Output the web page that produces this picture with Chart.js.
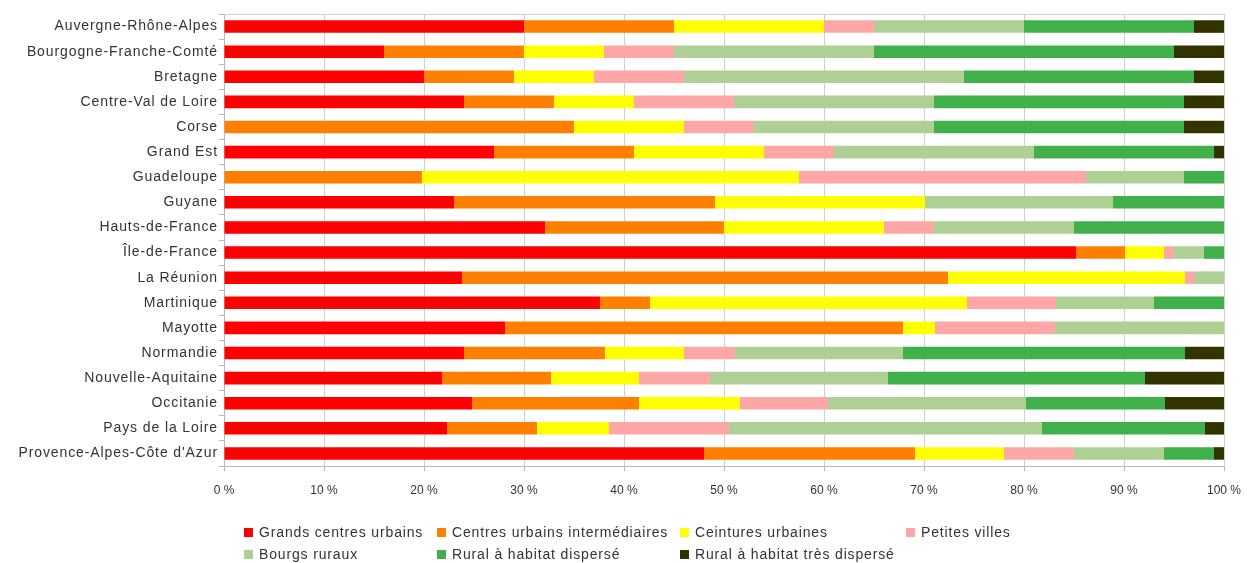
<!DOCTYPE html>
<html lang="fr">
<head>
<meta charset="utf-8">
<title>Répartition de la population par type de commune</title>
<script src="https://cdn.jsdelivr.net/npm/chart.js@4/dist/chart.umd.min.js"></script>
<style>
    html, body { margin: 0; padding: 0; background: #fff; }
    #wrap { position: relative; width: 1247px; height: 563px; }
    #legend {
        position: absolute; left: 244px; top: 523px;
        display: grid; grid-template-columns: 193px 243px 226px auto;
        row-gap: 4px;
        font-family: "Liberation Sans", Arial, sans-serif; font-size: 14px;
        letter-spacing: 0.85px; color: #333;
    }
    .item { display: flex; align-items: center; height: 18px; white-space: nowrap; }
    .box { width: 9px; height: 9px; margin-right: 6px; flex: none; }
</style>
</head>
<body>
<div id="wrap">
    <canvas id="chart" width="1247" height="563"></canvas>
    <div id="legend"></div>
</div>
<script>
// Regions, top to bottom
const regions = [
    'Auvergne-Rhône-Alpes', 'Bourgogne-Franche-Comté', 'Bretagne', 'Centre-Val de Loire',
    'Corse', 'Grand Est', 'Guadeloupe', 'Guyane', 'Hauts-de-France', 'Île-de-France',
    'La Réunion', 'Martinique', 'Mayotte', 'Normandie', 'Nouvelle-Aquitaine',
    'Occitanie', 'Pays de la Loire', 'Provence-Alpes-Côte d\'Azur'
];

// Share of population (%) per type of commune, one array per series
const grandsCentres   = [30, 16, 20, 24, 0, 27, 0, 23, 32.1, 85.2, 23.8, 37.6, 28.1, 24, 21.8, 24.8, 22.3, 48];
const centresInter    = [15, 14, 9, 9, 35, 14, 19.8, 26.1, 17.9, 4.9, 48.6, 5, 39.8, 14.1, 10.9, 16.7, 9, 21.1];
const ceintures       = [15, 8, 8, 8, 11, 13, 37.7, 21, 16, 3.9, 23.7, 31.7, 3.2, 7.9, 8.8, 10.1, 7.2, 8.9];
const petitesVilles   = [5, 7, 9, 10, 7, 7, 28.7, 0, 5, 1, 0.9, 8.9, 12, 5.1, 7.1, 8.8, 12, 7];
const bourgsRuraux    = [15, 20, 28, 20, 18, 20, 9.8, 18.8, 14, 3, 3, 9.8, 16.9, 16.8, 17.8, 19.8, 31.3, 9];
const ruralDisperse   = [17, 30, 23, 25, 25, 18, 4, 11.1, 15, 2, 0, 7, 0, 28.2, 25.7, 13.9, 16.3, 5];
const ruralTresDisp   = [3, 5, 3, 4, 4, 1, 0, 0, 0, 0, 0, 0, 0, 3.9, 7.9, 5.9, 1.9, 1];

const xTickLabels = ['0 %', '10 %', '20 %', '30 %', '40 %', '50 %', '60 %', '70 %', '80 %', '90 %', '100 %'];

const seriesNames = [
    'Grands centres urbains', 'Centres urbains intermédiaires', 'Ceintures urbaines', 'Petites villes',
    'Bourgs ruraux', 'Rural à habitat dispersé', 'Rural à habitat très dispersé'
];
const seriesData = [grandsCentres, centresInter, ceintures, petitesVilles, bourgsRuraux, ruralDisperse, ruralTresDisp];
const seriesColors = ['#ff0000', '#ff8000', '#ffff00', '#ffa6a6', '#afd095', '#40b04a', '#333300'];

const FONT = '"Liberation Sans", Arial, sans-serif';

// frame line on top of the plot area, plus spaced region names
const framePlugin = {
    id: 'frame',
    beforeDraw(chart) {
        // wider letter spacing on the region names only
        const yScale = chart.scales.y;
        if (!yScale._spaced) {
            const orig = yScale.drawLabels;
            yScale.drawLabels = function (area) {
                const ctx = this.ctx;
                ctx.save();
                ctx.letterSpacing = '0.9px';
                orig.call(this, area);
                ctx.restore();
            };
            yScale._spaced = true;
        }
    },
    afterDraw(chart) {
        const { ctx, chartArea: a } = chart;
        ctx.save();
        ctx.strokeStyle = '#d0d0d0';
        ctx.lineWidth = 1;
        ctx.beginPath();
        ctx.moveTo(a.left, a.top + 0.5);
        ctx.lineTo(a.right, a.top + 0.5);
        ctx.stroke();
        ctx.restore();
    }
};

const chart = new Chart(document.getElementById('chart'), {
    type: 'bar',
    data: {
        labels: regions,
        datasets: seriesNames.map((name, i) => ({
            label: name,
            data: seriesData[i],
            backgroundColor: seriesColors[i],
            borderWidth: 0,
            barPercentage: 0.5,
            categoryPercentage: 1
        }))
    },
    options: {
        indexAxis: 'y',
        responsive: false,
        animation: false,
        layout: { padding: { left: 0, right: 23, top: 14, bottom: 65 } },
        plugins: {
            legend: { display: false },
            tooltip: { enabled: false }
        },
        scales: {
            x: {
                stacked: true,
                min: 0,
                max: 100,
                ticks: {
                    stepSize: 10,
                    padding: 12,
                    color: '#333',
                    font: { family: FONT, size: 12 },
                    callback: (v) => xTickLabels[Math.round(v / 10)]
                },
                grid: { color: '#d0d0d0', tickLength: 5, tickColor: '#b8b8b8' },
                border: { color: '#b8b8b8' },
                afterFit: (scale) => {
                    scale.height = 32;
                    scale.paddingLeft = 0;
                    scale.paddingRight = 0;
                }
            },
            y: {
                stacked: true,
                ticks: {
                    padding: 1,
                    color: '#333',
                    font: { family: FONT, size: 14 }
                },
                grid: { drawOnChartArea: false, tickLength: 5, color: '#b8b8b8', offset: true },
                border: { color: '#b8b8b8' },
                afterFit: (scale) => { scale.width = 224; }
            }
        }
    },
    plugins: [framePlugin]
});

// HTML legend in four columns, row by row
const legendEl = document.getElementById('legend');
seriesNames.forEach((name, i) => {
    const item = document.createElement('div');
    item.className = 'item';
    item.innerHTML = `<span class="box" style="background:${seriesColors[i]}"></span>${name}`;
    legendEl.appendChild(item);
});
</script>
</body>
</html>
